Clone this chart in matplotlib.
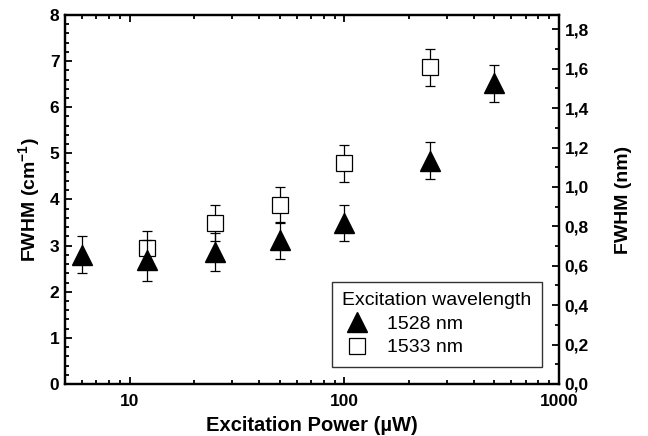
import numpy as np
import matplotlib.pyplot as plt
from matplotlib.ticker import MultipleLocator, FixedLocator, NullFormatter

plt.rcParams['font.family'] = ['Liberation Sans', 'DejaVu Sans']
plt.rcParams['mathtext.fontset'] = 'custom'
plt.rcParams['mathtext.rm'] = 'Liberation Sans:bold'
plt.rcParams['mathtext.bf'] = 'Liberation Sans:bold'

# data
power_1528 = [6, 12, 25, 50, 100, 250, 500]
fwhm_1528 = [2.80, 2.68, 2.87, 3.12, 3.48, 4.84, 6.52]
err_1528 = [0.40, 0.44, 0.41, 0.40, 0.39, 0.40, 0.40]

power_1533 = [12, 25, 50, 100, 250]
fwhm_1533 = [2.94, 3.49, 3.87, 4.79, 6.87]
err_1533 = [0.38, 0.38, 0.39, 0.40, 0.40]

nm_per_cm = 0.2341   # conversion for the right axis

fig = plt.figure(figsize=(6.48, 4.36), dpi=100)
ax = fig.add_axes([0.1003, 0.1193, 0.7624, 0.8463])

# squares first, triangles on top
ax.errorbar(power_1533, fwhm_1533, yerr=err_1533, fmt='none', ecolor='black',
            elinewidth=0.9, capsize=3.3, capthick=0.9, zorder=2)
ax.plot(power_1533, fwhm_1533, 's', ms=11, mfc='white', mec='black', mew=0.9,
        zorder=3, label='1533 nm')
ax.errorbar(power_1528, fwhm_1528, yerr=err_1528, fmt='none', ecolor='black',
            elinewidth=0.9, capsize=3.3, capthick=0.9, zorder=4)
ax.plot(power_1528, fwhm_1528, '^', ms=14, color='black', zorder=5, label='1528 nm')

ax.set_xscale('log')
ax.set_xlim(5, 1000)
ax.set_ylim(0, 8)
ax.xaxis.set_major_locator(FixedLocator([10, 100, 1000]))
ax.set_xticklabels(['10', '100', '1000'])
ax.xaxis.set_minor_locator(FixedLocator([5, 6, 7, 8, 9, 20, 30, 40, 50, 60, 70, 80, 90,
                                         200, 300, 400, 500, 600, 700, 800, 900]))
ax.xaxis.set_minor_formatter(NullFormatter())
ax.yaxis.set_major_locator(MultipleLocator(1))
ax.yaxis.set_minor_locator(MultipleLocator(0.2))

for s in ax.spines.values():
    s.set_linewidth(1.6)
ax.tick_params(which='both', direction='in', top=True, right=False, width=1.3)
ax.tick_params(which='major', length=5, labelsize=12.5, pad=4)
ax.tick_params(axis='x', which='major', pad=7)
ax.tick_params(which='minor', length=3)
for lab in ax.get_xticklabels() + ax.get_yticklabels():
    lab.set_fontweight('bold')

ax.set_xlabel('Excitation Power (µW)', fontsize=14.5, fontweight='bold', labelpad=5)
ax.set_ylabel('FWHM (cm$^{\\mathbf{-1}}$)', fontsize=14, fontweight='bold', labelpad=5)

ax2 = ax.twinx()
ax2.set_ylim(0, 8 * nm_per_cm)
ax2.yaxis.set_major_locator(MultipleLocator(0.2))
ax2.yaxis.set_minor_locator(MultipleLocator(0.1))
ax2.tick_params(which='both', direction='in', width=1.3)
ax2.tick_params(which='major', length=5, labelsize=12.5, pad=4)
ax2.tick_params(which='minor', length=3)
ticks = np.arange(0, 1.81, 0.2)
ax2.set_yticks(ticks)
ax2.set_yticklabels([('%.1f' % t).replace('.', ',') for t in ticks], fontweight='bold')
for s in ax2.spines.values():
    s.set_linewidth(1.6)
ax2.set_ylabel('FWHM (nm)', fontsize=14, fontweight='bold', labelpad=19)

h, l = ax.get_legend_handles_labels()
leg = ax.legend(h[::-1], l[::-1], title='Excitation wavelength', loc='lower right',
                bbox_to_anchor=(0.966, 0.046), borderaxespad=0, fancybox=False,
                fontsize=14, title_fontsize=14, edgecolor='#333333',
                handlelength=1.5, handletextpad=0.8, labelspacing=0.3,
                borderpad=0.55, markerscale=1.0, framealpha=1)
leg.get_frame().set_linewidth(1.0)
leg._legend_box.align = 'left'
leg.get_title().set_ha('center')

fig.savefig('out.png', dpi=100)
